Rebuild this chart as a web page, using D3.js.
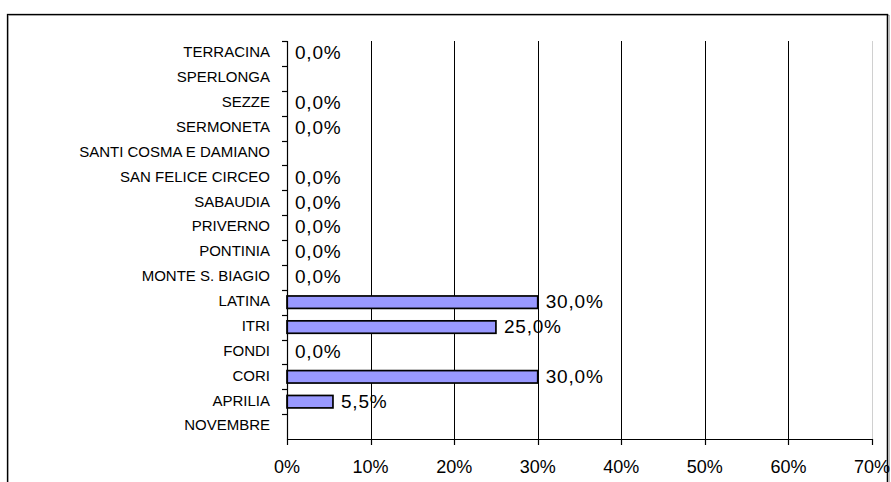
<!DOCTYPE html>
<html><head><meta charset="utf-8">
<script src="https://cdn.jsdelivr.net/npm/d3@7"></script>
<style>html,body{margin:0;padding:0;background:#fff;}svg{display:block;}</style>
</head><body>
<script>
const categories = ["TERRACINA","SPERLONGA","SEZZE","SERMONETA","SANTI COSMA E DAMIANO","SAN FELICE CIRCEO","SABAUDIA","PRIVERNO","PONTINIA","MONTE S. BIAGIO","LATINA","ITRI","FONDI","CORI","APRILIA","NOVEMBRE"];
const values = [0, null, 0, 0, null, 0, 0, 0, 0, 0, 30, 25, 0, 30, 5.5, null];
const xTicks = [0,10,20,30,40,50,60,70];

const W = 891, H = 482;
const svg = d3.select("body").append("svg").attr("width", W).attr("height", H);
const font = "Liberation Sans, Arial, sans-serif";

// outer chart border
svg.append("rect").attr("x", 8.5).attr("y", 15.5).attr("width", 881).attr("height", 480)
  .attr("fill", "none").attr("stroke", "#c0c0c0").attr("stroke-width", 1);
svg.append("rect").attr("x", 7.5).attr("y", 14.5).attr("width", 880).attr("height", 480)
  .attr("fill", "none").attr("stroke", "#000").attr("stroke-width", 1.3);

const x = d3.scaleLinear().domain([0,70]).range([287,872]);
const y = d3.scaleBand().domain(categories).range([41,439]).paddingInner(0.5).paddingOuter(0.25);
const step = y.step();

// gridlines
svg.append("g").selectAll("line").data(xTicks.filter(d => d > 0)).join("line")
  .attr("x1", d => Math.round(x(d)) + 0.5).attr("x2", d => Math.round(x(d)) + 0.5)
  .attr("y1", 41).attr("y2", 439)
  .attr("stroke", d => d === 70 ? "#d0d0d0" : "#000").attr("stroke-width", 1);

// bars
const data = categories.map((c,i) => ({c, v: values[i]}));
svg.append("g").selectAll("rect").data(data.filter(d => d.v)).join("rect")
  .attr("x", x(0)).attr("y", d => y(d.c))
  .attr("width", d => x(d.v) - x(0)).attr("height", y.bandwidth())
  .attr("fill", "#9999FF").attr("stroke", "#000").attr("stroke-width", 1.7);

// y axis
const ya = svg.append("g");
ya.append("line").attr("x1", 287.5).attr("x2", 287.5).attr("y1", 41).attr("y2", 439.5)
  .attr("stroke", "#000").attr("stroke-width", 1.2);
const bounds = categories.map(c => y(c) + y.bandwidth()/2 - step/2);
ya.selectAll("line.t").data(bounds).join("line").attr("class","t")
  .attr("x1", 282).attr("x2", 287.5).attr("y1", d => Math.round(d)+0.5).attr("y2", d => Math.round(d)+0.5)
  .attr("stroke", "#000").attr("stroke-width", 1.2);
ya.selectAll("text").data(categories).join("text")
  .attr("x", 270).attr("y", d => y(d) + y.bandwidth()/2 - 1.5)
  .attr("dy", "0.36em").attr("text-anchor", "end")
  .attr("font-family", font).attr("font-size", 15).attr("fill", "#000")
  .text(d => d);

// x axis
const xa = svg.append("g");
xa.append("line").attr("x1", 287).attr("x2", 872.5).attr("y1", 439.5).attr("y2", 439.5)
  .attr("stroke", "#000").attr("stroke-width", 1.2);
xa.selectAll("line.t").data(xTicks).join("line").attr("class","t")
  .attr("x1", d => Math.round(x(d))+0.5).attr("x2", d => Math.round(x(d))+0.5)
  .attr("y1", 439).attr("y2", 445).attr("stroke", "#000").attr("stroke-width", 1.2);
xa.selectAll("text").data(xTicks).join("text")
  .attr("x", d => x(d)).attr("y", 467).attr("dy", "0.36em").attr("text-anchor", "middle")
  .attr("font-family", font).attr("font-size", 18).attr("fill", "#000")
  .text(d => d + "%");

// value labels
svg.append("g").selectAll("text").data(data.filter(d => d.v !== null)).join("text")
  .attr("x", d => x(d.v) + 8).attr("y", d => y(d.c) + y.bandwidth()/2 - 1)
  .attr("dy", "0.36em").attr("font-family", font).attr("font-size", 19)
  .attr("letter-spacing", 0.8).attr("fill", "#000")
  .text(d => d.v.toFixed(1).replace(".", ",") + "%");

// redraw right border over the clipped tick label
svg.append("line").attr("x1", 887.5).attr("x2", 887.5).attr("y1", 14).attr("y2", 482)
  .attr("stroke", "#000").attr("stroke-width", 1.3);
</script>
</body></html>
